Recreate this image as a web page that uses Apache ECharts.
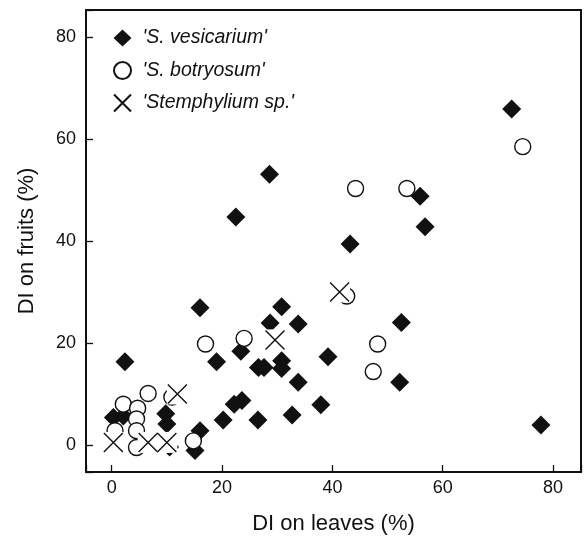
<!DOCTYPE html>
<html>
<head>
<meta charset="utf-8">
<script src="https://cdn.jsdelivr.net/npm/echarts@6/dist/echarts.min.js"></script>
<style>
  html, body { margin: 0; padding: 0; background: #fff; }
  #chart { width: 587px; height: 540px; }
</style>
</head>
<body>
<div id="chart"></div>
<script>
// values: DI on leaves (x) / DI on fruits (y), in %
const vesicariumLeaves = [72.5, 28.6, 22.5, 55.9, 56.8, 43.2, 16.0, 30.8, 28.7, 33.8, 52.5, 23.4, 39.2, 19.0, 2.4, 26.6, 27.6, 30.8, 30.8, 33.8, 52.2, 22.2, 23.6, 37.9, 20.2, 26.5, 32.7, 77.8, 16.0, 15.1, 0.3, 2.1, 9.8, 10.0, 10.5];
const vesicariumFruits = [65.9, 53.1, 44.7, 48.8, 42.8, 39.4, 26.9, 27.1, 23.9, 23.7, 24.0, 18.4, 17.3, 16.3, 16.3, 15.2, 15.2, 16.5, 15.0, 12.3, 12.3, 8.0, 8.7, 7.9, 4.9, 4.9, 5.9, 3.9, 2.8, -1.1, 5.4, 5.7, 6.1, 4.1, -0.4];

const botryosumLeaves = [74.5, 44.2, 53.5, 42.6, 17.0, 24.0, 48.2, 47.4, 6.6, 10.9, 2.1, 4.7, 4.5, 4.5, 4.5, 0.6, 14.8];
const botryosumFruits = [58.5, 50.3, 50.3, 29.2, 19.8, 20.9, 19.8, 14.4, 10.1, 9.4, 8.0, 7.2, 5.1, 2.8, -0.5, 2.8, 0.8];

const stemphyliumLeaves = [41.3, 29.6, 11.9, 0.3, 6.6, 10.0];
const stemphyliumFruits = [30.0, 20.6, 10.0, 0.5, 0.5, 0.5];

const seriesNames = ["'S. vesicarium'", "'S. botryosum'", "'Stemphylium sp.'"];
const tickValues = [0, 20, 40, 60, 80];

const pairs = (xs, ys) => xs.map((x, i) => [x, ys[i]]);

const font = 'Liberation Sans, Arial, Helvetica, sans-serif';
const ink = '#111';

const myChart = echarts.init(document.getElementById('chart'));

const axisCommon = {
  type: 'value',
  nameLocation: 'middle',
  nameTextStyle: { fontFamily: font, fontSize: 22, color: ink },
  axisLine: { show: false, onZero: false },
  axisTick: { show: true, inside: true, length: 7, lineStyle: { color: ink, width: 1.3 } },
  axisLabel: {
    fontFamily: font, fontSize: 18, color: ink, margin: 10,
    showMinLabel: true, showMaxLabel: true,
    // only the round ticks get a label
    formatter: v => (tickValues.indexOf(Math.round(v * 1000) / 1000) >= 0 ? String(v) : '')
  },
  splitLine: { show: false }
};

const option = {
  animation: false,
  backgroundColor: '#fff',
  grid: { left: 86, right: 6, top: 10, bottom: 67, show: true, borderColor: ink, borderWidth: 2 },
  legend: {
    orient: 'vertical',
    left: 108,
    top: 23,
    itemWidth: 18,
    itemHeight: 17,
    itemGap: 12.5,
    data: seriesNames,
    textStyle: { fontFamily: font, fontSize: 19.5, lineHeight: 20, fontStyle: 'italic', color: ink, padding: [0, 0, 0, 6] }
  },
  xAxis: Object.assign({}, axisCommon, {
    name: 'DI on leaves (%)',
    nameGap: 41,
    min: -4.66,
    max: 85.06,
    axisLabel: Object.assign({}, axisCommon.axisLabel, { margin: 7 })
  }),
  yAxis: Object.assign({}, axisCommon, {
    name: 'DI on fruits (%)',
    nameGap: 48,
    min: -5.3,
    max: 85.3
  }),
  series: [
    {
      name: seriesNames[0],
      type: 'scatter',
      symbol: 'diamond',
      symbolSize: 19,
      z: 2,
      itemStyle: { color: ink, opacity: 1 },
      data: pairs(vesicariumLeaves, vesicariumFruits)
    },
    {
      name: seriesNames[1],
      type: 'scatter',
      symbol: 'circle',
      symbolSize: 16,
      z: 3,
      itemStyle: { color: '#fff', borderColor: ink, borderWidth: 1.4, opacity: 1 },
      data: pairs(botryosumLeaves, botryosumFruits)
    },
    {
      // white backing of the crosses, it hides what is under them
      name: 'cross-bg',
      type: 'scatter',
      symbol: 'rect',
      symbolSize: 21,
      z: 4,
      silent: true,
      itemStyle: { color: '#fff', opacity: 1 },
      data: pairs(stemphyliumLeaves, stemphyliumFruits)
    },
    {
      name: seriesNames[2],
      type: 'scatter',
      symbol: 'path://M0,0L20,20M20,0L0,20',
      symbolSize: 19,
      z: 5,
      itemStyle: { color: 'rgba(0,0,0,0)', borderColor: ink, borderWidth: 1.4, opacity: 1 },
      data: pairs(stemphyliumLeaves, stemphyliumFruits)
    }
  ]
};

myChart.setOption(option);
</script>
</body>
</html>
